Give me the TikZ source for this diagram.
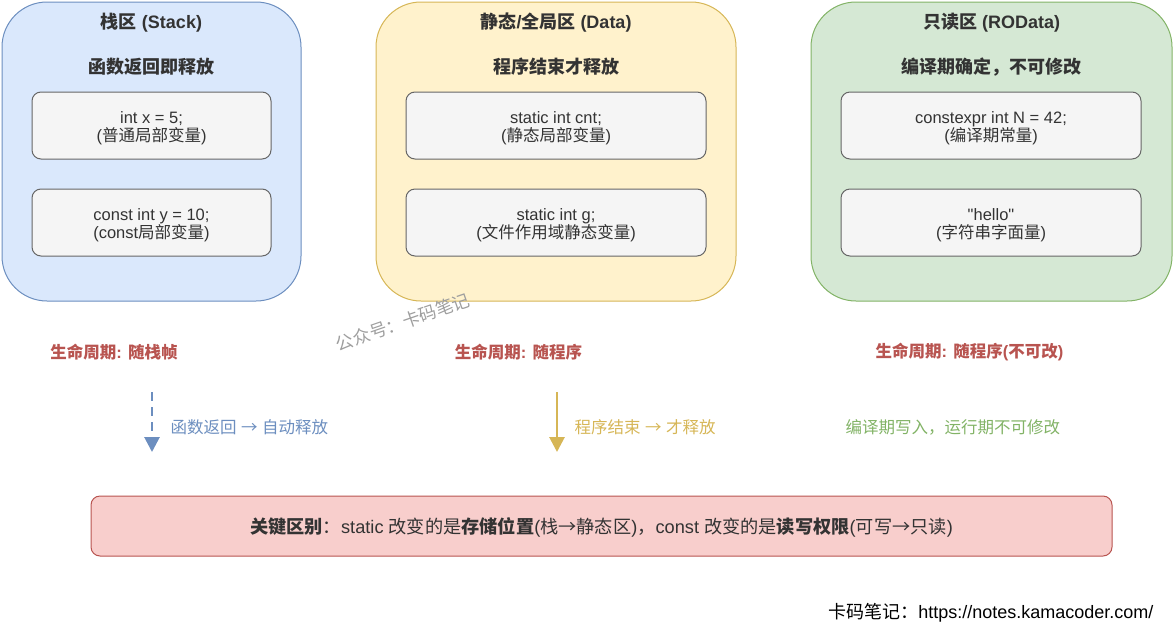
\documentclass[tikz,border=0pt]{standalone}
\usepackage{fontspec}
\setmainfont{Liberation Sans}[Ligatures=TeXOff]
\newfontfamily\cjk{Noto Sans CJK SC}
\usetikzlibrary{arrows.meta}
\XeTeXinterchartokenstate=1
\newXeTeXintercharclass\CJKcls
\newcount\ccnt
\ccnt="4E00
\loop \XeTeXcharclass\ccnt=\CJKcls \advance\ccnt 1 \ifnum\ccnt<"A000 \repeat
\ccnt="3000
\loop \XeTeXcharclass\ccnt=\CJKcls \advance\ccnt 1 \ifnum\ccnt<"3040 \repeat
\ccnt="FF00
\loop \XeTeXcharclass\ccnt=\CJKcls \advance\ccnt 1 \ifnum\ccnt<"FFF0 \repeat
\XeTeXcharclass"2192=\CJKcls
\XeTeXinterchartoks 0 \CJKcls = {\cjk}
\XeTeXinterchartoks 4095 \CJKcls = {\cjk}
\XeTeXinterchartoks \CJKcls 0 = {\rmfamily}
\XeTeXinterchartoks \CJKcls 4095 = {\rmfamily}
\definecolor{blueF}{HTML}{DAE8FC}\definecolor{blueD}{HTML}{6C8EBF}
\definecolor{yelF}{HTML}{FFF2CC}\definecolor{yelD}{HTML}{D6B656}
\definecolor{grnF}{HTML}{D5E8D4}\definecolor{grnD}{HTML}{82B366}
\definecolor{gryF}{HTML}{F5F5F5}\definecolor{gryD}{HTML}{666666}
\definecolor{redF}{HTML}{F8CECC}\definecolor{redD}{HTML}{B85450}
\definecolor{txt}{HTML}{333333}
\tikzset{
  region/.style={draw=#1D, fill=#1F, line width=1pt, rounded corners=45pt},
  itembox/.style={draw=gryD, fill=gryF, line width=1pt, rounded corners=9pt},
  title/.style={text=txt, font={\fontsize{18}{21}\selectfont\bfseries}},
  itemtxt/.style={text=txt, align=center, font={\fontsize{16.5}{18.5}\selectfont}},
  life/.style={text=redD, font={\fontsize{16.5}{19}\selectfont\bfseries}},
  note/.style={text=#1, anchor=west, font={\fontsize{16.5}{19}\selectfont}},
  flow/.style={draw=#1, line width=2.8pt, -{Triangle[width=15pt,length=15pt]}},
}
\begin{document}
\begin{tikzpicture}[x=1pt,y=-1pt]
\useasboundingbox (0,0) rectangle (1175,627);
% regions
\draw[region=blue] (2,2) rectangle (301,301);
\draw[region=yel] (376,2) rectangle (736,301);
\draw[region=grn] (811,2) rectangle (1172,301);
\node[title] (t1) at (151.5,23) {栈区 (Stack)};
\node[title] (t2) at (556,23) {静态/全局区 (Data)};
\node[title] (t3) at (991.5,23) {只读区 (ROData)};
\node[title] (s1) at (151.5,67) {函数返回即释放};
\node[title] (s2) at (556,67) {程序结束才释放};
\node[title] (s3) at (991.5,67) {编译期确定，不可修改};
% items
\draw[itembox] (32,92) rectangle (271,159);
\draw[itembox] (32,189) rectangle (271,256);
\draw[itembox] (406,92) rectangle (706,159);
\draw[itembox] (406,189) rectangle (706,256);
\draw[itembox] (841,92) rectangle (1141,159);
\draw[itembox] (841,189) rectangle (1141,256);
\node[itemtxt] (i11) at (151.5,128) {int x = 5;\\(普通局部变量)};
\node[itemtxt] (i12) at (151.5,225) {const int y = 10;\\(const局部变量)};
\node[itemtxt] (i21) at (556,128) {static int cnt;\\(静态局部变量)};
\node[itemtxt] (i22) at (556,225) {static int g;\\(文件作用域静态变量)};
\node[itemtxt] (i31) at (991,128) {constexpr int N = 42;\\(编译期常量)};
\node[itemtxt] (i32) at (991,225) {"hello"\\(字符串字面量)};
% lifecycle
\node[life] (l1) at (114,352) {生命周期: 随栈帧};
\node[life] (l2) at (518.5,352) {生命周期: 随程序};
\node[life] (l3) at (969.5,352) {生命周期: 随程序(不可改)};
% arrows
\coordinate (a1s) at (152,392); \coordinate (a1e) at (152,452);
\coordinate (a2s) at (557,392); \coordinate (a2e) at (557,452);
\draw[flow=blueD, dash pattern=on 9pt off 6pt] (a1s) -- (a1e);
\draw[flow=yelD] (a2s) -- (a2e);
\node[note=blueD] (n1) at (167,427) {函数返回 → 自动释放};
\node[note=yelD] (n2) at (571,427) {程序结束 → 才释放};
\node[note=grnD] (n3) at (842,427) {编译期写入，运行期不可修改};
% summary
\draw[draw=redD, fill=redF, line width=1pt, rounded corners=9pt] (91,496) rectangle (1112,556);
\node[text=txt, font={\fontsize{18.2}{21}\selectfont}] (sum) at (601.5,527) {\textbf{关键区别}：static 改变的是\textbf{存储位置}(栈→静态区)，const 改变的是\textbf{读写权限}(可写→只读)};
% watermark
\node[text=black!38, rotate=19, font={\fontsize{17.5}{20}\selectfont}] (wm) at (403,322) {公众号：卡码笔记};
% footer
\node[text=black, anchor=east, font={\fontsize{18}{21}\selectfont}] (ft) at (1157,613) {卡码笔记：https://notes.kamacoder.com/};
\end{tikzpicture}
\end{document}
